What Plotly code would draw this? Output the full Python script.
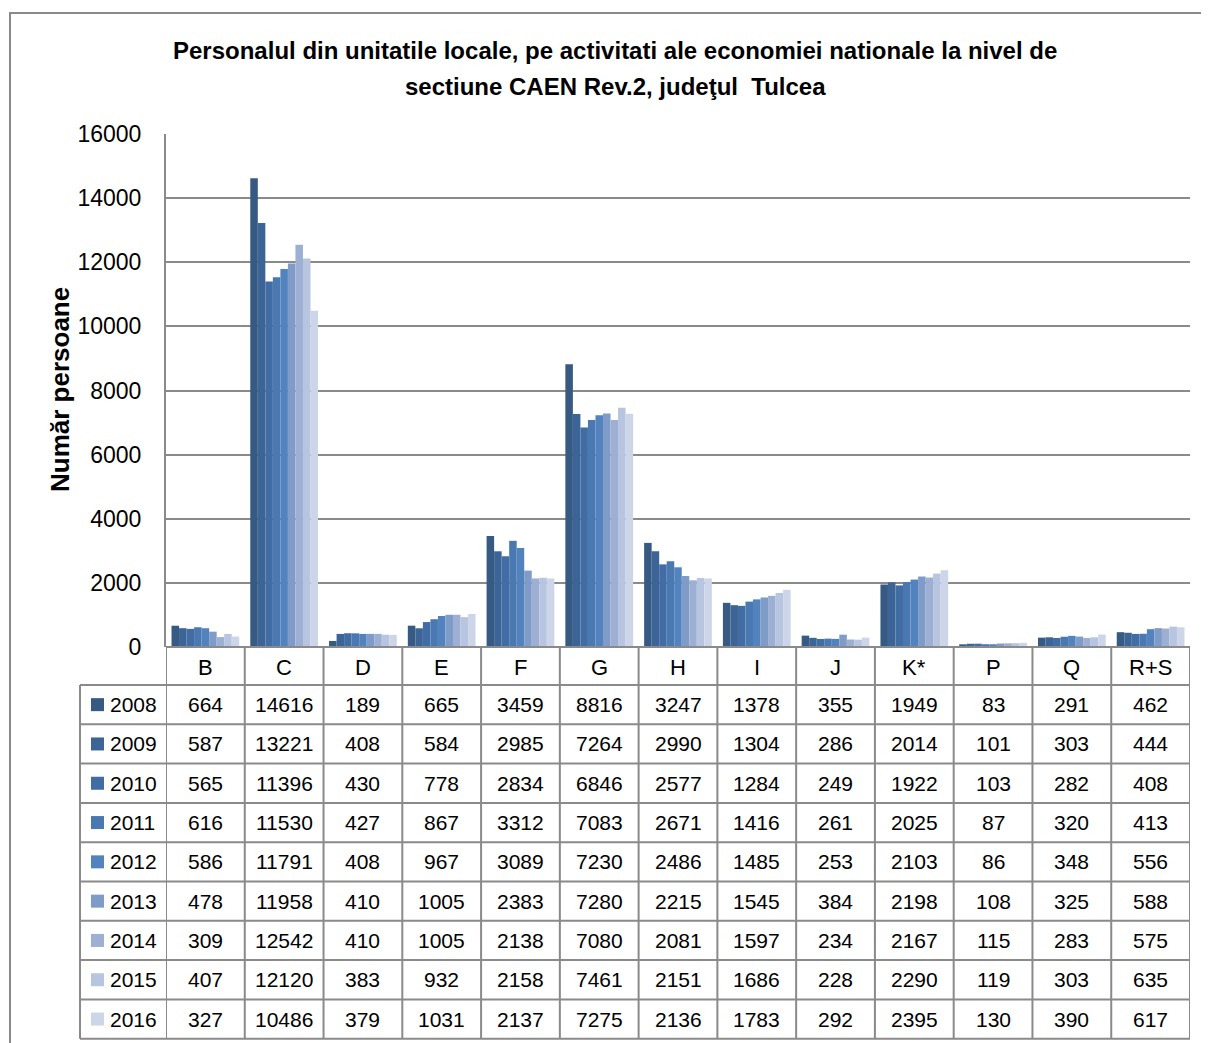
import plotly.graph_objects as go

categories = ["B", "C", "D", "E", "F", "G", "H", "I", "J", "K*", "P", "Q", "R+S"]
years = ["2008", "2009", "2010", "2011", "2012", "2013", "2014", "2015", "2016"]

v2008 = [664, 14616, 189, 665, 3459, 8816, 3247, 1378, 355, 1949, 83, 291, 462]
v2009 = [587, 13221, 408, 584, 2985, 7264, 2990, 1304, 286, 2014, 101, 303, 444]
v2010 = [565, 11396, 430, 778, 2834, 6846, 2577, 1284, 249, 1922, 103, 282, 408]
v2011 = [616, 11530, 427, 867, 3312, 7083, 2671, 1416, 261, 2025, 87, 320, 413]
v2012 = [586, 11791, 408, 967, 3089, 7230, 2486, 1485, 253, 2103, 86, 348, 556]
v2013 = [478, 11958, 410, 1005, 2383, 7280, 2215, 1545, 384, 2198, 108, 325, 588]
v2014 = [309, 12542, 410, 1005, 2138, 7080, 2081, 1597, 234, 2167, 115, 283, 575]
v2015 = [407, 12120, 383, 932, 2158, 7461, 2151, 1686, 228, 2290, 119, 303, 635]
v2016 = [327, 10486, 379, 1031, 2137, 7275, 2136, 1783, 292, 2395, 130, 390, 617]

title_lines = ["Personalul din unitatile locale, pe activitati ale economiei nationale la nivel de",
               "sectiune CAEN Rev.2, judeţul  Tulcea"]

series = [v2008, v2009, v2010, v2011, v2012, v2013, v2014, v2015, v2016]
colors = ["#375A82", "#3C6496", "#426DA4", "#4A79B1", "#5383BE",
          "#7F9BC7", "#9DB0D4", "#B8C5E0", "#CDD6E9"]

W, H = 1209, 1043
OFF = 8  # page body margin
def px(x):
    return (x - OFF) / W
def py(y):
    return 1 - (y - OFF) / H

GRID = "#8a8a8a"
FONT = "Liberation Sans"

fig = go.Figure()
for yr, vals, c in zip(years, series, colors):
    fig.add_trace(go.Bar(x=categories, y=vals, name=yr,
                         marker=dict(color=c, line=dict(width=0)),
                         showlegend=False))

fig.update_layout(
    template="none",
    width=W, height=H, autosize=False,
    margin=dict(l=0, r=0, t=0, b=0, pad=0),
    paper_bgcolor="white", plot_bgcolor="white",
    barmode="group", bargap=0.14, bargroupgap=0,
    font=dict(family=FONT, color="black"),
    xaxis=dict(domain=[px(166), px(1190)], range=[-0.5, 12.5], automargin=False,
               showticklabels=False, showgrid=False, showline=False,
               zeroline=False, ticks=""),
    yaxis=dict(domain=[py(647), py(134)], range=[0, 16000], dtick=2000, tickformat="d",
               automargin=False,
               showgrid=True, gridcolor=GRID, gridwidth=1.5,
               showline=True, linecolor=GRID, linewidth=2,
               zeroline=False, ticks="", ticklabelstandoff=18,
               tickfont=dict(family=FONT, size=23, color="black")),
)

shapes = []
annotations = []

# title (two lines)
for i, line in enumerate(title_lines):
    annotations.append(dict(x=px(615), xref="paper", y=py(51 + i * 35), yref="paper",
                            text="<b>" + line + "</b>", showarrow=False,
                            xanchor="center", yanchor="middle",
                            font=dict(family=FONT, size=24, color="black")))

# outer border
shapes.append(dict(type="rect", xref="paper", yref="paper",
                   x0=px(10), x1=px(1240), y0=py(1070), y1=py(13),
                   line=dict(color=GRID, width=2)))

# table geometry
header_top = 647
header_bot = 685
row_h = 39.3
n_rows = len(years)
table_bot = header_bot + n_rows * row_h
n_cat = len(categories)

shapes.append(dict(type="line", xref="x", yref="paper", x0=-0.5, x1=n_cat - 0.5,
                   y0=py(header_top), y1=py(header_top), line=dict(color=GRID, width=2)))
for r in range(n_rows + 1):
    yy = header_bot + r * row_h
    shapes.append(dict(type="line", xref="paper", yref="paper", x0=px(80), x1=px(1190),
                       y0=py(yy), y1=py(yy), line=dict(color=GRID, width=2)))
for k in range(n_cat + 1):
    shapes.append(dict(type="line", xref="x", yref="paper", x0=k - 0.5, x1=k - 0.5,
                       y0=py(header_top), y1=py(table_bot), line=dict(color=GRID, width=2)))
shapes.append(dict(type="line", xref="paper", yref="paper", x0=px(80), x1=px(80),
                   y0=py(header_bot), y1=py(table_bot), line=dict(color=GRID, width=2)))

for cat in categories:
    annotations.append(dict(x=cat, xref="x", y=py((header_top + header_bot) / 2 + 1), yref="paper",
                            text=cat, showarrow=False, xanchor="center", yanchor="middle",
                            font=dict(family=FONT, size=22, color="black")))

for r, (yr, vals, c) in enumerate(zip(years, series, colors)):
    yc = header_bot + (r + 0.5) * row_h
    shapes.append(dict(type="rect", xref="paper", yref="paper",
                       x0=px(91), x1=px(104), y0=py(yc + 6.5), y1=py(yc - 6.5),
                       fillcolor=c, line=dict(width=0)))
    annotations.append(dict(x=px(108), xref="paper", y=py(yc), yref="paper",
                            text=yr, showarrow=False, xanchor="left", yanchor="middle",
                            font=dict(family=FONT, size=21, color="black")))
    for cat, v in zip(categories, vals):
        annotations.append(dict(x=cat, xref="x", y=py(yc), yref="paper",
                                text=str(v), showarrow=False, xanchor="center", yanchor="middle",
                                font=dict(family=FONT, size=21, color="black")))

annotations.append(dict(x=px(60), xref="paper", y=py(390), yref="paper",
                        text="<b>Număr persoane</b>", textangle=-90, showarrow=False,
                        xanchor="center", yanchor="middle",
                        font=dict(family=FONT, size=26, color="black")))

fig.update_layout(shapes=shapes, annotations=annotations)
fig.write_html("out.html")
